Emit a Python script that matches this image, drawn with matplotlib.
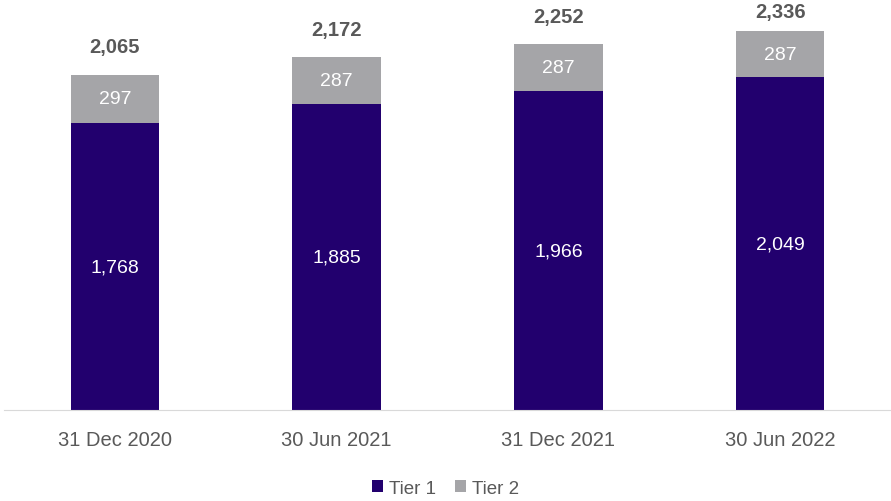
import numpy as np
import matplotlib.pyplot as plt

plt.rcParams['font.family'] = ['Liberation Sans', 'DejaVu Sans']

fechas = ['31 Dec 2020', '30 Jun 2021', '31 Dec 2021', '30 Jun 2022']
tier1 = [1768, 1885, 1966, 2049]
tier2 = [297, 287, 287, 287]
totales = [2065, 2172, 2252, 2336]

c_t1 = '#22006e'
c_t2 = '#a5a5a8'
c_txt = '#595959'

fig = plt.figure(figsize=(8.91, 5.02), dpi=100)
ax = fig.add_axes([4 / 891, 0.181, 887 / 891, 0.819])

ymax = 2532
x = np.arange(len(fechas))
b1 = ax.bar(x, tier1, width=0.4, color=c_t1, label='Tier 1')
b2 = ax.bar(x, tier2, width=0.4, bottom=tier1, color=c_t2, label='Tier 2')

# etiquetas dentro de las barras y totales arriba (el último se ajusta al borde)
for i in range(len(fechas)):
    ax.text(x[i], tier1[i] / 2, f'{tier1[i]:,}', ha='center', va='center',
            color='white', fontsize=14)
    ax.text(x[i], tier1[i] + tier2[i] / 2, f'{tier2[i]:,}', ha='center',
            va='center', color='white', fontsize=14)
    y_lab = min(totales[i] + 140, ymax - 111)
    ax.text(x[i], y_lab, f'{totales[i]:,}', ha='center',
            va='baseline', color=c_txt, fontsize=14.5, fontweight='bold')

ax.set_xlim(-0.5, 3.5)
ax.set_ylim(0, ymax)
ax.set_yticks([])
ax.set_xticks(x)
ax.set_xticklabels(fechas, fontsize=14.5, color=c_txt)
ax.tick_params(axis='x', length=0, pad=14)
for s in ['top', 'right', 'left']:
    ax.spines[s].set_visible(False)
ax.spines['bottom'].set_color('#d9d9d9')

fig.legend(handles=[b1, b2], loc='lower center', bbox_to_anchor=(0.5, -0.025),
           ncol=2, frameon=False, fontsize=13.5, handlelength=0.6,
           handleheight=0.6, handletextpad=0.3, columnspacing=1.0,
           labelcolor=c_txt)

plt.savefig('out.png', dpi=100)
